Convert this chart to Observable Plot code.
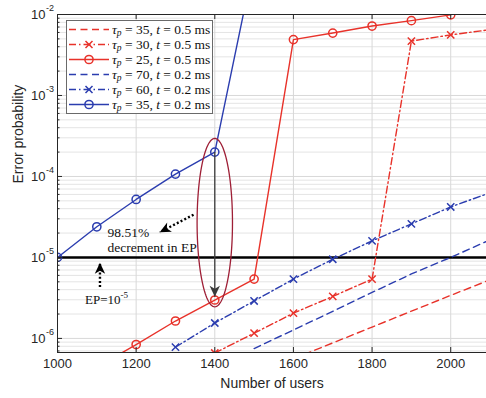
<!DOCTYPE html>
<html>
<head>
<meta charset="utf-8">
<script src="https://cdn.jsdelivr.net/npm/d3@7"></script>
<script src="https://cdn.jsdelivr.net/npm/@observablehq/plot@0.6"></script>
<style>
  html, body { margin: 0; padding: 0; background: #fff; }
  svg { display: block; }
</style>
</head>
<body>
<div id="chart"></div>
<script>
// Number of users on the x axis
const users = [1000, 1100, 1200, 1300, 1400, 1500, 1600, 1700, 1800, 1900, 2000, 2100];

// Error probability per configuration (null = not evaluated)
const epTau35T05 = [null, null, null, null, null, null, 5.6e-7, 8.8e-7, 1.38e-6, 2.17e-6, 3.4e-6, 5.3e-6];
const epTau30T05 = [null, null, null, null, 6.6e-7, 1.16e-6, 2.05e-6, 3.3e-6, 5.4e-6, 4.7e-3, 5.6e-3, 6.5e-3];
const epTau25T05 = [null, 4.4e-7, 8.4e-7, 1.64e-6, 2.98e-6, 5.4e-6, 4.9e-3, 5.9e-3, 7.2e-3, 8.4e-3, 9.9e-3, null];
const epTau70T02 = [null, null, null, null, null, 7.5e-7, 1.27e-6, 2.16e-6, 3.7e-6, 6.25e-6, 1.0e-5, 1.65e-5];
const epTau60T02 = [null, null, null, 7.8e-7, 1.55e-6, 2.9e-6, 5.4e-6, 9.5e-6, 1.6e-5, 2.6e-5, 4.2e-5, 6.3e-5];
const epTau35T02 = [1.0e-5, 2.39e-5, 5.2e-5, 1.07e-4, 2.0e-4, 4.4e-2, null, null, null, null, null, null];

// Legend text pieces: tau_p value and t value
const tauP = [35, 30, 25, 70, 60, 35];
const tVal = ["0.5", "0.5", "0.5", "0.2", "0.2", "0.2"];

// Axis ticks
const xTicks = [1000, 1200, 1400, 1600, 1800, 2000];
const yDecades = [1e-6, 1e-5, 1e-4, 1e-3, 1e-2];

// Target error probability
const epTarget = 1e-5;

const RED = "#e8322a";
const BLUE = "#2b3daf";
const DASH = "7,4.5";
const DASHDOT = "7,3,1.5,3";

const series = [
  {values: epTau35T05, color: RED,  dash: DASH,    marker: null},
  {values: epTau30T05, color: RED,  dash: DASHDOT, marker: "times"},
  {values: epTau25T05, color: RED,  dash: null,    marker: "circle"},
  {values: epTau70T02, color: BLUE, dash: DASH,    marker: null},
  {values: epTau60T02, color: BLUE, dash: DASHDOT, marker: "times"},
  {values: epTau35T02, color: BLUE, dash: null,    marker: "circle"}
];

const rowsOf = (s) => users.map((u, i) => ({users: u, ep: s.values[i]})).filter(d => d.ep != null);

// Minor ticks/gridlines on the log axis
const yMinor = [];
for (const e of [-7, -6, -5, -4, -3]) for (let k = 2; k <= 9; k++) {
  const v = k * 10 ** e;
  if (v >= 6.7e-7 && v <= 1e-2) yMinor.push(v);
}

// Ellipse highlighting the gap at 1400 users (log-space centre and half-height)
const ellipse = d3.range(0, 361, 3).map(a => ({
  users: 1400 + 45 * Math.cos(a * Math.PI / 180),
  ep: 10 ** (-4.57 + 1.04 * Math.sin(a * Math.PI / 180))
}));

// Arrow annotations: shaft start, tip, head rotation
const arrows = [
  {x1: 1400, y1: 2.0e-4, x2: 1400, y2: 3.27e-6, rotate: 180, stroke: "#3a3a3a", dash: null, width: 1.3},
  {x1: 1346, y1: 3.37e-5, x2: 1260, y2: 2.05e-5, rotate: 243, stroke: "#000", dash: "2,2.2", width: 2.4},
  {x1: 1108, y1: 4.3e-6, x2: 1108, y2: 8.6e-6, rotate: 0, stroke: "#000", dash: "2,2.2", width: 2.4}
];

// Filled arrowhead with a notched back, tip at the origin pointing up
const arrowHead = {
  draw(context, size) {
    const L = 11, w = 5.2;
    context.moveTo(0, 0);
    context.lineTo(w, L);
    context.lineTo(0, L * 0.72);
    context.lineTo(-w, L);
    context.closePath();
  }
};

const W = 486, H = 398;
const mL = 57, mR = 0, mT = 14, mB = 46;
const frameW = W - mL - mR, frameH = H - mT - mB;
const INK = "#262626";

const marks = [
  // grid
  Plot.ruleY(yMinor, {y: d => d, stroke: "#e4e4e4", strokeWidth: 1}),
  Plot.ruleY(yDecades, {y: d => d, stroke: "#d8d8d8", strokeWidth: 1}),
  Plot.ruleX(xTicks, {x: d => d, stroke: "#d8d8d8", strokeWidth: 1}),

  // target line
  Plot.ruleY([epTarget], {y: d => d, stroke: "#000", strokeWidth: 2.4}),

  // series
  ...series.flatMap(s => {
    const rows = rowsOf(s);
    const out = [Plot.line(rows, {x: "users", y: "ep", stroke: s.color, strokeWidth: 1.4,
      strokeDasharray: s.dash ?? undefined, clip: true})];
    if (s.marker) out.push(Plot.dot(rows, {x: "users", y: "ep", symbol: s.marker,
      r: s.marker === "circle" ? 4.1 : 3.4, stroke: s.color, strokeWidth: 1.5, fill: "none", clip: true}));
    return out;
  }),

  // ellipse
  Plot.line(ellipse, {x: "users", y: "ep", stroke: "#9e1f36", strokeWidth: 1.3, curve: "linear-closed"}),

  // arrows
  ...arrows.flatMap(a => [
    Plot.link([a], {x1: "x1", y1: "y1", x2: "x2", y2: "y2", stroke: a.stroke, strokeWidth: a.width,
      strokeDasharray: a.dash ?? undefined}),
    Plot.dot([a], {x: "x2", y: "y2", symbol: arrowHead, rotate: a.rotate, r: 4, fill: a.stroke, stroke: "none"})
  ]),

  // frame and inward ticks
  Plot.frame({stroke: INK, strokeWidth: 1}),
  Plot.tickX(xTicks, {x: d => d, insetTop: frameH - 5, stroke: INK}),
  Plot.tickX(xTicks, {x: d => d, insetBottom: frameH - 5, stroke: INK}),
  Plot.tickY(yDecades, {y: d => d, insetRight: frameW - 5, stroke: INK}),
  Plot.tickY(yMinor, {y: d => d, insetRight: frameW - 2.5, stroke: INK}),

  // tick labels
  Plot.text(xTicks, {x: d => d, frameAnchor: "bottom", dy: 15, text: d => String(d),
    fontSize: 13, fill: INK}),
  Plot.text(yDecades, {y: d => d, frameAnchor: "left", dx: -12, text: () => "10",
    textAnchor: "end", fontSize: 13, fill: INK}),
  Plot.text(yDecades, {y: d => d, frameAnchor: "left", dx: -11.5, dy: -6,
    text: d => "-" + Math.round(-Math.log10(d)), textAnchor: "start", fontSize: 9, fill: INK}),

  // axis titles
  Plot.text(["Number of users"], {frameAnchor: "bottom", dy: 35, text: d => d, fontSize: 14, fill: INK}),
  Plot.text(["Error probability"], {frameAnchor: "left", dx: -39, rotate: -90, text: d => d,
    fontSize: 14, fill: INK})
];

const chart = Plot.plot({
  width: W, height: H,
  marginLeft: mL, marginRight: mR, marginTop: mT, marginBottom: mB,
  x: {domain: [1000, 2091], axis: null},
  y: {type: "log", domain: [6.7e-7, 1e-2], axis: null},
  style: {fontFamily: "'Liberation Sans', Arial, sans-serif", background: "#fff"},
  marks
});
document.getElementById("chart").append(chart);

// Legend and annotation text (serif, with sub/superscripts)
const svg = d3.select(chart);
const SERIF = "'Liberation Serif', 'Times New Roman', serif";

const lg = svg.append("g").attr("text-anchor", "start");
lg.append("rect").attr("x", 66.5).attr("y", 20.5).attr("width", 146).attr("height", 93)
  .attr("fill", "#fff").attr("stroke", "#6a6a6a").attr("stroke-width", 1);

series.forEach((s, i) => {
  const cy = 29.5 + i * 15;
  lg.append("line").attr("x1", 69).attr("x2", 109).attr("y1", cy).attr("y2", cy)
    .attr("stroke", s.color).attr("stroke-width", 1.4)
    .attr("stroke-dasharray", s.dash);
  if (s.marker === "circle") {
    lg.append("circle").attr("cx", 89).attr("cy", cy).attr("r", 4.1)
      .attr("fill", "none").attr("stroke", s.color).attr("stroke-width", 1.5);
  } else if (s.marker === "times") {
    lg.append("path").attr("d", `M${85.5},${cy - 3.5}L${92.5},${cy + 3.5}M${85.5},${cy + 3.5}L${92.5},${cy - 3.5}`)
      .attr("stroke", s.color).attr("stroke-width", 1.5);
  }
  const t = lg.append("text").attr("x", 112).attr("y", cy + 4.4)
    .attr("font-family", SERIF).attr("font-size", 13.5).attr("fill", "#111");
  t.append("tspan").attr("font-style", "italic").text("τ");
  t.append("tspan").attr("font-style", "italic").attr("font-size", 9.5).attr("dy", 2.5).text("p");
  t.append("tspan").attr("dy", -2.5).text(` = ${tauP[i]}, `);
  t.append("tspan").attr("font-style", "italic").text("t");
  t.append("tspan").text(` = ${tVal[i]} ms`);
});

const ann = svg.append("g").attr("text-anchor", "start")
  .attr("font-family", SERIF).attr("font-size", 13.5).attr("fill", "#111");
ann.append("text").attr("x", 107.5).attr("y", 236.5).text("98.51%");
ann.append("text").attr("x", 107.5).attr("y", 251.5).text("decrement in EP");
const ep = ann.append("text").attr("x", 85).attr("y", 304).attr("font-size", 13);
ep.append("tspan").text("EP=10");
ep.append("tspan").attr("font-size", 9).attr("dy", -6).text("-5");
</script>
</body>
</html>
